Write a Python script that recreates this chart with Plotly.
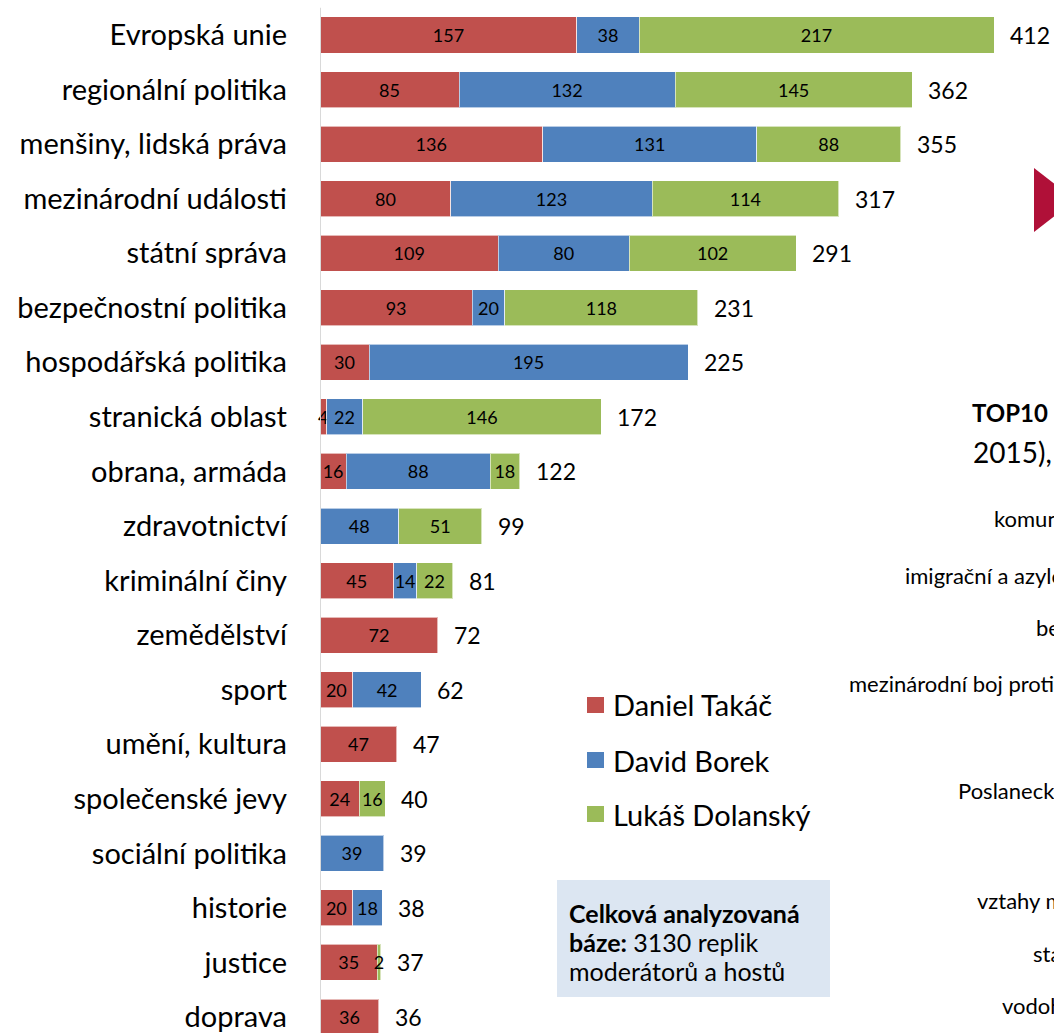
import plotly.graph_objects as go

categories = ["Evropská unie", "regionální politika", "menšiny, lidská práva",
              "mezinárodní události", "státní správa", "bezpečnostní politika",
              "hospodářská politika", "stranická oblast", "obrana, armáda",
              "zdravotnictví", "kriminální činy", "zemědělství", "sport",
              "umění, kultura", "společenské jevy", "sociální politika",
              "historie", "justice", "doprava"]
takac = [157, 85, 136, 80, 109, 93, 30, 4, 16, None, 45, 72, 20, 47, 24, None, 20, 35, 36]
borek = [38, 132, 131, 123, 80, 20, 195, 22, 88, 48, 14, None, 42, None, None, 39, 18, None, None]
dolansky = [217, 145, 88, 114, 102, 118, None, 146, 18, 51, 22, None, None, None, 16, None, None, 2, None]
series_names = ["Daniel Takáč", "David Borek", "Lukáš Dolanský"]
colors = ["#C0504D", "#4F81BD", "#9BBB59"]

totals = [sum(v or 0 for v in row) for row in zip(takac, borek, dolansky)]

FONT = "Lato"
W, H = 1054, 1033
L = 320
PW = W - L


def px_x(p):
    return (p - L) / PW


def px_y(p):
    return (H - p) / H


fig = go.Figure()
for name, vals, col in zip(series_names, [takac, borek, dolansky], colors):
    fig.add_trace(go.Bar(
        y=categories, x=vals, name=name, orientation="h",
        marker=dict(color=col, line=dict(color="rgba(255,255,255,0.6)", width=1)),
        text=[str(v) if v else "" for v in vals],
        textposition="inside", insidetextanchor="middle",
        textfont=dict(family=FONT, size=18, color="#000000"),
        cliponaxis=False, showlegend=False,
    ))

# totals to the right of each bar
for cat, tot in zip(categories, totals):
    fig.add_annotation(x=tot, y=cat, text=str(tot), showarrow=False,
                       xanchor="left", xshift=14,
                       font=dict(family=FONT, size=23, color="#000000"))

# vertical axis line
fig.add_shape(type="line", xref="x", yref="y", x0=0, x1=0, y0=-0.5, y1=18.5,
              line=dict(color="#D9D9D9", width=2))

# legend drawn manually
leg_y = [705, 760, 814]
for name, col, py in zip(series_names, colors, leg_y):
    fig.add_shape(type="rect", xref="paper", yref="paper",
                  x0=px_x(587), x1=px_x(604), y0=px_y(py + 8), y1=px_y(py - 8),
                  fillcolor=col, line=dict(width=0))
    fig.add_annotation(xref="paper", yref="paper", x=px_x(611), y=px_y(py),
                       text=name, showarrow=False, xanchor="left", yanchor="middle",
                       font=dict(family=FONT, size=29, color="#000000"))

# info box
fig.add_shape(type="rect", xref="paper", yref="paper",
              x0=px_x(557), x1=px_x(830), y0=px_y(997), y1=px_y(880),
              fillcolor="#DCE6F2", line=dict(width=0))
box_lines = ["<b>Celková analyzovaná</b>", "<b>báze:</b> 3130 replik", "moderátorů a hostů"]
for i, txt in enumerate(box_lines):
    fig.add_annotation(xref="paper", yref="paper", x=px_x(567), y=px_y(913 + 29 * i),
                       text=txt, showarrow=False, xanchor="left", yanchor="middle",
                       font=dict(family=FONT, size=25, color="#000000"))

# partial neighbouring content on the right edge
fig.add_shape(type="path", xref="paper", yref="paper",
              path="M {0} {1} L {2} {3} L {0} {4} Z".format(
                  px_x(1034), px_y(168), px_x(1075), px_y(200), px_y(232)),
              fillcolor="#B01038", line=dict(width=0))
side_texts = [("<b>TOP10</b>", 970, 412, 24), ("2015),", 971, 452, 28),
              ("komunikace", 992, 518, 22), ("imigrační a azylová", 903, 575, 22),
              ("bezpečnost", 1034, 627, 22), ("mezinárodní boj proti", 847, 683, 22),
              ("Poslanecká", 956, 790, 22), ("vztahy mezi", 975, 900, 22),
              ("stát", 1031, 953, 22), ("vodohosp", 1000, 1005, 22)]
for txt, x, y, fs in side_texts:
    fig.add_annotation(xref="paper", yref="paper", x=px_x(x), y=px_y(y),
                       text=txt, showarrow=False, xanchor="left", yanchor="middle",
                       font=dict(family=FONT, size=fs, color="#000000"))

fig.update_layout(
    barmode="stack", bargap=0.34,
    width=W, height=H,
    margin=dict(l=L, r=0, t=0, b=0),
    paper_bgcolor="white", plot_bgcolor="white",
    uniformtext=dict(minsize=18, mode="show"),
    xaxis=dict(range=[0, PW / 1.636], visible=False, fixedrange=True),
    yaxis=dict(range=[18.293, -0.6415], showgrid=False, showline=False,
               ticks="", ticklabelstandoff=32, fixedrange=True,
               tickfont=dict(family=FONT, size=29, color="#000000")),
)

fig.write_html("out.html", config={"displayModeBar": False},
               post_script="document.body.style.margin='0';")
